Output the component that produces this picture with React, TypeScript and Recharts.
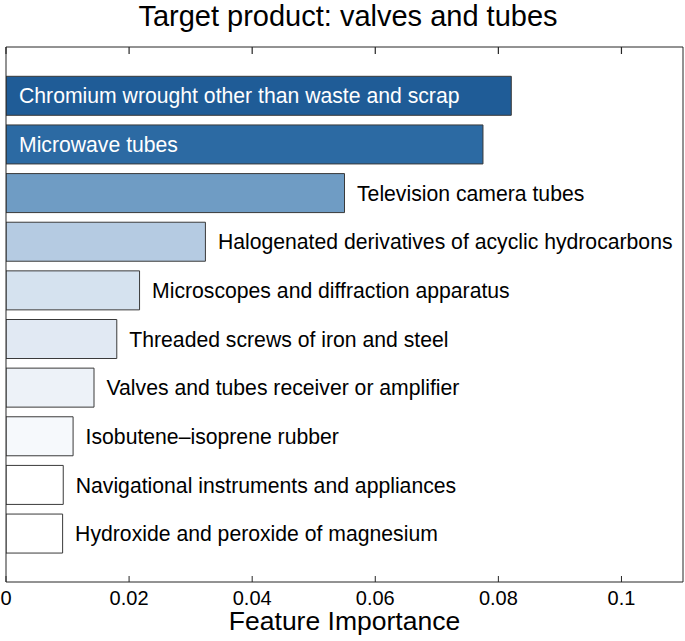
import React from "react";
import { BarChart, Bar, XAxis, YAxis, Cell, LabelList } from "recharts";

const CATEGORIES = [
  "Chromium wrought other than waste and scrap",
  "Microwave tubes",
  "Television camera tubes",
  "Halogenated derivatives of acyclic hydrocarbons",
  "Microscopes and diffraction apparatus",
  "Threaded screws of iron and steel",
  "Valves and tubes receiver or amplifier",
  "Isobutene\u2013isoprene rubber",
  "Navigational instruments and appliances",
  "Hydroxide and peroxide of magnesium",
];

const IMPORTANCE = [0.0821, 0.0775, 0.055, 0.0324, 0.0217, 0.018, 0.0143, 0.0109, 0.0093, 0.0092];

const X_DOMAIN_MAX = 0.11;
const X_TICKS = [0, 0.02, 0.04, 0.06, 0.08, 0.1];
const X_TICK_LABELS = ["0", "0.02", "0.04", "0.06", "0.08", "0.1"];

const TITLE = "Target product: valves and tubes";
const X_LABEL = "Feature Importance";

const BAR_COLORS = [
  "#1f5c97",
  "#2c6aa3",
  "#6f9cc4",
  "#b5cbe2",
  "#d5e2ef",
  "#e1e9f3",
  "#edf2f8",
  "#f6f9fc",
  "#ffffff",
  "#ffffff",
];

const FONT = "'Liberation Sans', Arial, Helvetica, sans-serif";
const FRAME = "#262626";

const data = CATEGORIES.map((name, i) => ({ name, value: IMPORTANCE[i] }));

const TICK_MARGIN = 9;
const PLOT_TOP = 47;

const BottomTick = (props: any) => {
  const { x, y, payload } = props;
  const idx = X_TICKS.indexOf(payload.value);
  const label = idx >= 0 ? X_TICK_LABELS[idx] : String(payload.value);
  const axisY = y - TICK_MARGIN;
  return (
    <g>
      <line x1={x} x2={x} y1={axisY} y2={axisY - 6} stroke={FRAME} strokeWidth={1} />
      <path d={`M${x},${PLOT_TOP}L${x},${PLOT_TOP + 7}`} stroke={FRAME} strokeWidth={1.2} fill="none" />
      <text x={x} y={y} dy="0.71em" textAnchor="middle" fontFamily={FONT} fontSize={20} fill="#000">
        {label}
      </text>
    </g>
  );
};

const renderLabel = (props: any) => {
  const { x, y, width, height, index } = props;
  const val = IMPORTANCE[index];
  const inside = val > 0.07;
  const tx = inside ? x + 13 : x + width + 12.5;
  return (
    <text
      x={tx}
      y={y + height / 2}
      dy="0.36em"
      textAnchor="start"
      fontFamily={FONT}
      fontSize={21.2}
      fill={inside ? "#ffffff" : "#000000"}
    >
      {CATEGORIES[index]}
    </text>
  );
};

export default function App() {
  return (
    <div style={{ position: "absolute", left: 0, top: 0, width: 685, height: 641, background: "#fff" }}>
      <div
        style={{
          position: "absolute",
          left: 0,
          top: -1,
          width: 685,
          height: 34,
          textAlign: "center",
          fontFamily: FONT,
          fontSize: 29,
          lineHeight: "34px",
          color: "#000",
          paddingLeft: 11,
          boxSizing: "border-box",
          whiteSpace: "nowrap",
        }}
      >
        {TITLE}
      </div>
      <div style={{ position: "absolute", left: 0, top: 0 }}>
        <BarChart
          layout="vertical"
          width={685}
          height={641}
          data={data}
          margin={{ top: 46, right: 1, bottom: 0, left: 5 }}
        >
          <XAxis
            xAxisId="top"
            type="number"
            orientation="top"
            domain={[0, X_DOMAIN_MAX]}
            ticks={X_TICKS}
            allowDataOverflow
            height={1}
            tick={false}
            tickLine={false}
            axisLine={{ stroke: FRAME, strokeWidth: 1 }}
          />
          <YAxis
            yAxisId="left"
            type="category"
            dataKey="name"
            width={1}
            tick={false}
            tickLine={false}
            axisLine={{ stroke: FRAME, strokeWidth: 1 }}
            padding={{ top: 24.3, bottom: 24.3 }}
          />
          <YAxis
            yAxisId="right"
            orientation="right"
            type="category"
            dataKey="name"
            width={1}
            tick={false}
            tickLine={false}
            axisLine={{ stroke: FRAME, strokeWidth: 1 }}
            padding={{ top: 24.3, bottom: 24.3 }}
          />
          <Bar
            dataKey="value"
            xAxisId="bottom"
            yAxisId="left"
            barSize={39}
            stroke="#3a3a3a"
            strokeWidth={1}
            isAnimationActive={false}
          >
            {data.map((d, i) => (
              <Cell key={d.name} fill={BAR_COLORS[i]} />
            ))}
            <LabelList dataKey="value" content={renderLabel} />
          </Bar>
          <XAxis
            xAxisId="bottom"
            type="number"
            orientation="bottom"
            domain={[0, X_DOMAIN_MAX]}
            ticks={X_TICKS}
            allowDataOverflow
            height={59}
            tickSize={0}
            tickMargin={TICK_MARGIN}
            tickLine={false}
            axisLine={{ stroke: FRAME, strokeWidth: 1 }}
            tick={<BottomTick />}
            interval={0}
            label={{
              value: X_LABEL,
              position: "insideBottom",
              offset: 11,
              style: { fontFamily: FONT, fontSize: 26.5, fill: "#000" },
            }}
          />
        </BarChart>
      </div>
    </div>
  );
}
